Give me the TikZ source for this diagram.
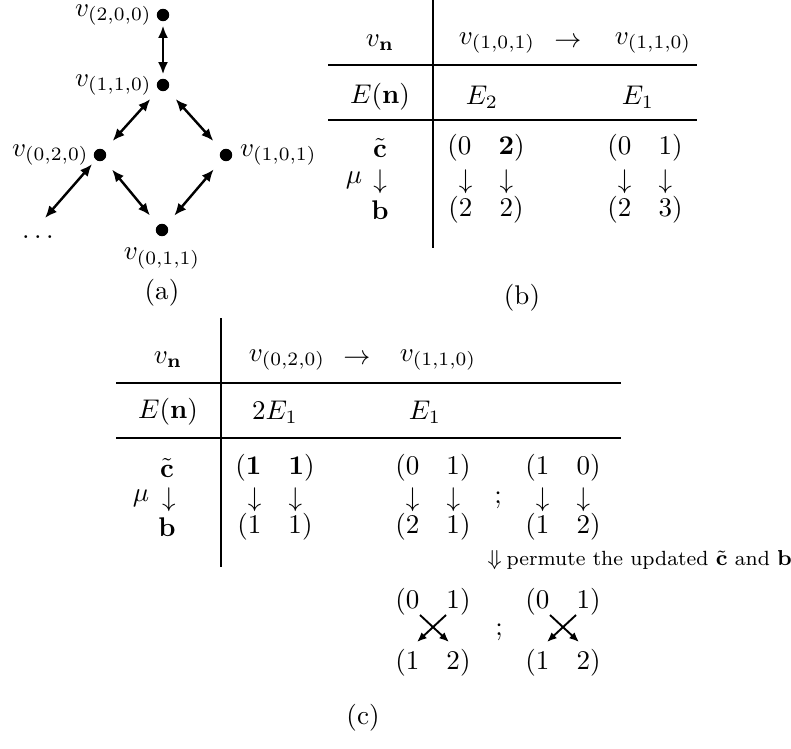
\documentclass[tikz,border=0pt]{standalone}
\usetikzlibrary{arrows.meta}
\begin{document}
\begin{tikzpicture}[x=0.37pt,y=-0.37pt,
  dot/.style={circle, fill, inner sep=0pt, minimum size=4.6pt},
  tag/.style={inner sep=1pt, label distance=0.5pt},
  link/.style={{Latex[length=4.5pt,width=3.8pt]}-{Latex[length=4.5pt,width=3.8pt]}, line width=0.9pt, shorten <=4.5pt, shorten >=4.5pt},
  swap/.style={-{Latex[length=3.6pt,width=3pt]}, line width=0.7pt},
  cell/.style={inner sep=0pt}]
\useasboundingbox (0,0) rectangle (791,748);
% (a) the graph
\node[dot, label={[tag]left:$v_{(2,0,0)}$}] (v200) at (163,15) {};
\node[dot, label={[tag]left:$v_{(1,1,0)}$}] (v110) at (163,85) {};
\node[dot, label={[tag]left:$v_{(0,2,0)}$}] (v020) at (100,155) {};
\node[dot, label={[tag, label distance=1.5pt]right:$v_{(1,0,1)}$}] (v101) at (226,155) {};
\node[dot, label={[tag, label distance=3pt]below:$v_{(0,1,1)}$}] (v011) at (162,230) {};
\node (dots) at (38,237) {$\dots$};
\coordinate (dend) at (45,218);
\draw[link, shorten <=1.5pt, shorten >=1.5pt] (v200) -- (v110);
\draw[link] (v110) -- (v020);
\draw[link] (v110) -- (v101);
\draw[link] (v020) -- (v011);
\draw[link] (v101) -- (v011);
\draw[link, shorten <=2pt, shorten >=0pt] (v020) -- (dend);
\node (la) at (162,293) {(a)};
% (b) the table
\draw (433,0) -- (433,248);
\draw (328,65) -- (697,65);
\draw (328,120) -- (697,120);
\node (bvn) at (380,43) {$v_{\mathbf{n}}$};
\node (bfrom) at (497,43) {$v_{(1,0,1)}$};
\node (barr) at (568,43) {$\rightarrow$};
\node (bto) at (653,43) {$v_{(1,1,0)}$};
\node (ben) at (380,97) {$E(\mathbf{n})$};
\node (be2) at (482,97) {$E_2$};
\node (be1) at (638,97) {$E_1$};
\node (bc) at (380,148) {$\tilde{\mathbf{c}}$};
\node (bmu) at (354,180) {$\mu$};
\node (bdn) at (380,182) {$\downarrow$};
\node (bb) at (380,210) {$\mathbf{b}$};
\node (bc1) at (486,148) {$(0\quad\mathbf{2})$};
\node (bm1) at (486,182) {$\downarrow\quad\downarrow$};
\node (bb1) at (486,210) {$(2\quad2)$};
\node (bc2) at (645,148) {$(0\quad1)$};
\node (bm2) at (645,182) {$\downarrow\quad\downarrow$};
\node (bb2) at (645,210) {$(2\quad3)$};
\node (lb) at (522,298) {(b)};
% (c) the table and the swap
\draw (221,318) -- (221,567);
\draw (116,383) -- (621,383);
\draw (116,438) -- (621,438);
\node (cvn) at (168,360) {$v_{\mathbf{n}}$};
\node (cfrom) at (287,360) {$v_{(0,2,0)}$};
\node (carr) at (357,360) {$\rightarrow$};
\node (cto) at (438,360) {$v_{(1,1,0)}$};
\node (cen) at (168,412) {$E(\mathbf{n})$};
\node (ce2) at (275,412) {$2E_1$};
\node (ce1) at (425,412) {$E_1$};
\node (cc) at (167,468) {$\tilde{\mathbf{c}}$};
\node (cmu) at (141,498) {$\mu$};
\node (cdn) at (169,500) {$\downarrow$};
\node (cb) at (167,527) {$\mathbf{b}$};
\node (cc1) at (275,468) {$(\mathbf{1}\quad\mathbf{1})$};
\node (cm1) at (275,500) {$\downarrow\quad\downarrow$};
\node (cb1) at (275,527) {$(1\quad1)$};
\node (cc2) at (433,468) {$(0\quad1)$};
\node (cm2) at (433,500) {$\downarrow\quad\downarrow$};
\node (cb2) at (433,527) {$(2\quad1)$};
\node (csep) at (498,500) {$;$};
\node (cc3) at (563,468) {$(1\quad0)$};
\node (cm3) at (563,500) {$\downarrow\quad\downarrow$};
\node (cb3) at (563,527) {$(1\quad2)$};
\node[cell, anchor=west] (perm) at (487,560) {\fontsize{7.6}{9}\selectfont$\Downarrow$\kern-0.8pt\ permute the updated $\tilde{\mathbf{c}}$ and $\mathbf{b}$};
\node (pl1) at (433,602) {$(0\quad1)$};
\node (pl2) at (433,663) {$(1\quad2)$};
\node (psep) at (499,632) {$;$};
\node (pr1) at (563,602) {$(0\quad1)$};
\node (pr2) at (563,663) {$(1\quad2)$};
\draw[swap] ([shift={(-13,13)}]pl1.center) -- ([shift={(16,-21)}]pl2.center);
\draw[swap] ([shift={(13,13)}]pl1.center) -- ([shift={(-16,-21)}]pl2.center);
\draw[swap] ([shift={(-13,13)}]pr1.center) -- ([shift={(16,-21)}]pr2.center);
\draw[swap] ([shift={(13,13)}]pr1.center) -- ([shift={(-16,-21)}]pr2.center);
\node (lc) at (363,718) {(c)};
\end{tikzpicture}
\end{document}
